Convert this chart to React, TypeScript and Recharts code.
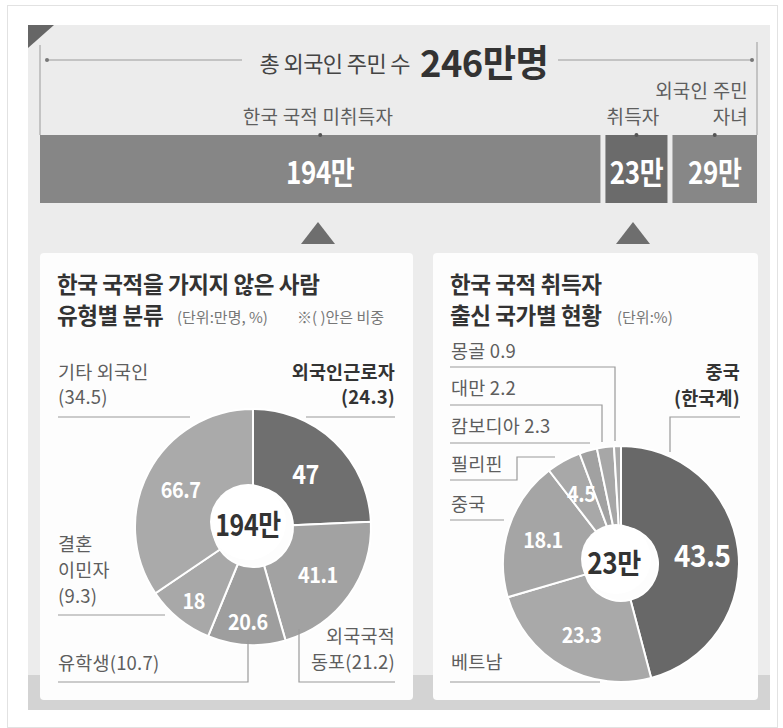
import { BarChart, Bar, XAxis, YAxis, PieChart, Pie, Cell, LabelList } from 'recharts'

const KR = "'Noto Sans CJK KR', 'Noto Sans', sans-serif"

// top stacked bar: 총 외국인 주민 수 (만명)
const groupKeys = ['미취득자', '취득자', '자녀']
const groupValues = [194, 23, 29]
const groupColors = ['#868686', '#6b6b6b', '#878787']
const totalResidents = 246

// left donut: 한국 국적을 가지지 않은 사람 유형별 (만명, %)
const typeNames = ['외국인근로자', '외국국적동포', '유학생', '결혼이민자', '기타 외국인']
const typeValues = [47, 41.1, 20.6, 18, 66.7]
const typeShares = [24.3, 21.2, 10.7, 9.3, 34.5]
const typeColors = ['#6f6f6f', '#a2a2a2', '#9e9e9e', '#a8a8a8', '#aaaaaa']
const typeTotal = '194만'

// right donut: 한국 국적 취득자 출신 국가별 (%)
const countryNames = ['중국(한국계)', '베트남', '중국', '필리핀', '캄보디아', '대만', '몽골']
const countryValues = [43.5, 23.3, 18.1, 4.5, 2.3, 2.2, 0.9]
const countryColors = ['#686868', '#a9a9a9', '#a5a5a5', '#a8a8a8', '#a1a1a1', '#a7a7a7', '#a9a9a9']
const countryTotal = '23만'

const barRow = [Object.fromEntries([['name', 'total'], ...groupKeys.map((k, i) => [k, groupValues[i]])])]
const typeData = typeNames.map((name, i) => ({ name, value: typeValues[i] }))
const countryData = countryNames.map((name, i) => ({ name, value: countryValues[i] }))

const RAD = Math.PI / 180
const GAP = 5

const LINE = '#9a9a9a'
const LABEL = '#5e5e5e'
const DARK = '#333'
const LS = 18.5 // label font size

// condensed bold figures, like the print typeface
function Num({ x, y, size, color = '#fff', sx = 0.86, anchor = 'middle', children }: any) {
  return (
    <text
      transform={`translate(${x},${y}) scale(${sx},1)`}
      textAnchor={anchor}
      dominantBaseline="central"
      fill={color}
      fontFamily={KR}
      fontWeight={700}
      fontSize={size}
      letterSpacing={-0.5}
    >
      {children}
    </text>
  )
}

function gapShape(fill: string, gap: number) {
  return (p: any) => (
    <rect x={p.x} y={p.y} width={Math.max(0, p.width - gap)} height={p.height} fill={fill} />
  )
}

function barLabel(gap: number) {
  return (p: any) => {
    const cx = p.x + (p.width - gap) / 2
    return (
      <g>
        <circle cx={cx} cy={p.y} r={2} fill="#555" />
        <Num x={cx} y={p.y + p.height / 2 + 1} size={31} sx={0.84}>
          {p.value}만
        </Num>
      </g>
    )
  }
}

function sliceLabel(radii: number[], sizes: number[]) {
  return (p: any) => {
    const i = p.index
    if (i >= radii.length) return null
    const r = radii[i]
    const x = p.cx + r * Math.cos(-p.midAngle * RAD)
    const y = p.cy + r * Math.sin(-p.midAngle * RAD)
    return (
      <Num x={x} y={y} size={sizes[i]} sx={0.9}>
        {p.value}
      </Num>
    )
  }
}

function Txt({ x, y, size = LS, anchor = 'start', bold = false, color = LABEL, ls = 0.2, children }: any) {
  return (
    <text
      x={x}
      y={y}
      textAnchor={anchor}
      dominantBaseline="central"
      fontFamily={KR}
      fontSize={size}
      fontWeight={bold ? 700 : 400}
      fill={color}
      letterSpacing={ls}
    >
      {children}
    </text>
  )
}

function Leader({ pts }: { pts: number[][] }) {
  return <polyline points={pts.map((p) => p.join(',')).join(' ')} fill="none" stroke={LINE} strokeWidth={1.2} />
}

export default function App() {
  return (
    <div style={{ position: 'absolute', left: 0, top: 0, width: 783, height: 728, background: '#fff', fontFamily: KR }}>
      <svg width={783} height={728} style={{ position: 'absolute', left: 0, top: 0 }}>
        <rect x={7.5} y={5.5} width={770} height={722} fill="#fff" stroke="#e2e2e2" />
        <rect x={28} y={25} width={742} height={685} fill="#ececec" />
        <rect x={28} y={675} width={742} height={35} fill="#d3d3d3" />
        <polygon points="28,25 54,25 28,48" fill="#666" />
        <polygon points="301,244 318,222 335,244" fill="#6e6e6e" />
        <polygon points="616,244 633,222 650,244" fill="#6e6e6e" />
        <rect x={40} y={253} width={373} height={447} rx={4} fill="#fdfdfd" />
        <rect x={433} y={253} width={325} height={447} rx={4} fill="#fdfdfd" />
      </svg>

      <div style={{ position: 'absolute', left: 40, top: 125 }}>
        <BarChart width={717} height={78} layout="vertical" data={barRow} margin={{ top: 10, right: 0, bottom: 0, left: 0 }} barCategoryGap={0}>
          <XAxis type="number" hide domain={[0, totalResidents]} />
          <YAxis type="category" dataKey="name" hide />
          {groupKeys.map((k, i) => {
            const gap = i < groupKeys.length - 1 ? GAP : 0
            return (
              <Bar key={k} dataKey={k} stackId="a" fill={groupColors[i]} shape={gapShape(groupColors[i], gap)} isAnimationActive={false}>
                <LabelList dataKey={k} content={barLabel(gap)} />
              </Bar>
            )
          })}
        </BarChart>
      </div>

      <div style={{ position: 'absolute', left: 40, top: 253 }}>
        <PieChart width={373} height={447}>
          <Pie
            data={typeData}
            dataKey="value"
            cx={208}
            cy={269}
            innerRadius={40}
            outerRadius={118}
            startAngle={90}
            endAngle={-270}
            stroke="#fff"
            strokeWidth={2}
            label={sliceLabel([76, 80, 94, 94, 82], [26, 22, 22, 22, 22])}
            labelLine={false}
            isAnimationActive={false}
          >
            {typeData.map((d, i) => (
              <Cell key={d.name} fill={typeColors[i]} />
            ))}
          </Pie>
        </PieChart>
      </div>

      <div style={{ position: 'absolute', left: 433, top: 253 }}>
        <PieChart width={325} height={447}>
          <Pie
            data={countryData}
            dataKey="value"
            cx={183}
            cy={306}
            innerRadius={37}
            outerRadius={118}
            startAngle={90}
            endAngle={-270}
            stroke="#fff"
            strokeWidth={2}
            label={sliceLabel([82, 80, 82, 82], [31, 22, 22, 22])}
            labelLine={false}
            isAnimationActive={false}
          >
            {countryData.map((d, i) => (
              <Cell key={d.name} fill={countryColors[i]} />
            ))}
          </Pie>
        </PieChart>
      </div>

      <svg width={783} height={728} style={{ position: 'absolute', left: 0, top: 0, pointerEvents: 'none' }}>
        {/* header */}
        <line x1={40} y1={45} x2={40} y2={135} stroke={LINE} strokeWidth={1} />
        <line x1={757} y1={42} x2={757} y2={135} stroke={LINE} strokeWidth={1} />
        <line x1={47} y1={60} x2={242} y2={60} stroke={LINE} strokeWidth={1.2} />
        <line x1={558} y1={60} x2={752} y2={60} stroke={LINE} strokeWidth={1.2} />
        <circle cx={47} cy={60} r={2} fill="#777" />
        <circle cx={752} cy={60} r={2} fill="#777" />
        <Txt x={410} y={62} size={22} anchor="end" color="#444" ls={-0.6}>총 외국인 주민 수</Txt>
        <Num x={420} y={61} size={37} sx={0.98} anchor="start" color={DARK}>
          {totalResidents}만명
        </Num>
        <Txt x={318} y={115} size={19} anchor="middle">한국 국적 미취득자</Txt>
        <Txt x={633} y={115} size={19} anchor="middle">취득자</Txt>
        <Txt x={748} y={89} size={19} anchor="end">외국인 주민</Txt>
        <Txt x={748} y={115} size={19} anchor="end">자녀</Txt>

        {/* left panel */}
        <Txt x={57} y={283} size={22.5} bold color={DARK} ls={-0.4}>한국 국적을 가지지 않은 사람</Txt>
        <Txt x={57} y={314} size={22.5} bold color={DARK} ls={-0.4}>유형별 분류</Txt>
        <Txt x={177} y={316} size={15} color="#777" ls={0}>(단위:만명, %)</Txt>
        <Txt x={297} y={316} size={15} color="#777" ls={0}>※( )안은 비중</Txt>

        <Txt x={58} y={371}>{typeNames[4]}</Txt>
        <Txt x={58} y={396}>({typeShares[4]})</Txt>
        <Leader pts={[[58, 417], [190, 417]]} />

        <Txt x={395} y={371} anchor="end" bold color={DARK}>{typeNames[0]}</Txt>
        <Txt x={395} y={396} anchor="end" bold color={DARK}>({typeShares[0]})</Txt>
        <Leader pts={[[306, 417], [395, 417]]} />

        <Txt x={58} y={543}>결혼</Txt>
        <Txt x={58} y={569}>이민자</Txt>
        <Txt x={58} y={595}>({typeShares[3]})</Txt>
        <Leader pts={[[58, 615], [165, 615]]} />

        <Txt x={58} y={662}>{typeNames[2]}({typeShares[2]})</Txt>
        <Leader pts={[[58, 682], [248, 682], [248, 640]]} />

        <Txt x={395} y={635} anchor="end">외국국적</Txt>
        <Txt x={395} y={661} anchor="end">동포({typeShares[1]})</Txt>
        <Leader pts={[[395, 682], [299, 682], [299, 629]]} />

        <circle cx={248} cy={522} r={38} fill="#fff" />
        <Num x={248} y={524} size={29} sx={0.86} color={DARK}>
          {typeTotal}
        </Num>

        {/* right panel */}
        <Txt x={450} y={283} size={22.5} bold color={DARK} ls={-0.4}>한국 국적 취득자</Txt>
        <Txt x={450} y={314} size={22.5} bold color={DARK} ls={-0.4}>출신 국가별 현황</Txt>
        <Txt x={617} y={316} size={15} color="#777" ls={0}>(단위:%)</Txt>

        <Txt x={451} y={350}>{countryNames[6]} {countryValues[6]}</Txt>
        <Leader pts={[[450, 367], [615, 367], [615, 441]]} />
        <Txt x={451} y={387}>{countryNames[5]} {countryValues[5]}</Txt>
        <Leader pts={[[450, 405], [602, 405], [602, 442]]} />
        <Txt x={451} y={425}>{countryNames[4]} {countryValues[4]}</Txt>
        <Leader pts={[[450, 443], [590, 443]]} />
        <Txt x={451} y={463}>{countryNames[3]}</Txt>
        <Leader pts={[[450, 480], [517, 480], [517, 457], [555, 457]]} />
        <Txt x={451} y={503}>{countryNames[2]}</Txt>
        <Leader pts={[[450, 520], [504, 520]]} />
        <Txt x={451} y={661}>{countryNames[1]}</Txt>
        <Leader pts={[[450, 682], [600, 682]]} />

        <Txt x={740} y={371} anchor="end" bold color={DARK}>중국</Txt>
        <Txt x={740} y={397} anchor="end" bold color={DARK}>(한국계)</Txt>
        <Leader pts={[[740, 417], [670, 417], [670, 452]]} />

        <circle cx={616} cy={559} r={35} fill="#fff" />
        <Num x={614} y={561} size={29} sx={0.9} color={DARK}>
          {countryTotal}
        </Num>
      </svg>
    </div>
  )
}
